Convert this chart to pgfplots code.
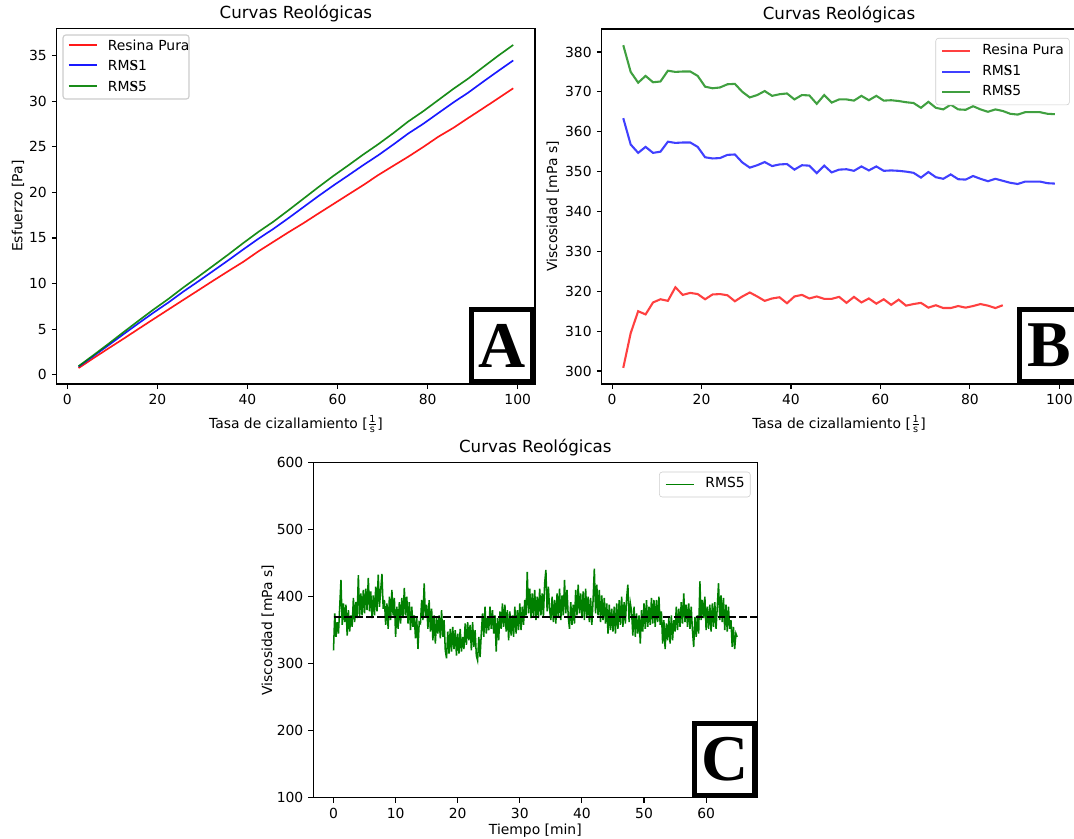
\documentclass[border=0pt]{standalone}
\usepackage{fontspec}
\setmainfont{DejaVu Sans}
\newfontfamily\ser{Liberation Serif}
\usepackage{amsmath}
\usepackage{pgfplots}
\usepackage{pgfplotstable}
\pgfplotsset{compat=1.18}

\definecolor{mplred}{rgb}{1,0,0}
\definecolor{mplblue}{rgb}{0,0,1}
\definecolor{mplgreen}{rgb}{0,0.5,0}

\pgfplotstableread{
x r b g
2.50 0.75 0.91 0.95
5.83 1.84 2.07 2.17
9.16 2.91 3.25 3.41
12.48 3.96 4.46 4.68
15.81 5.04 5.65 5.93
19.14 6.11 6.82 7.16
22.47 7.17 7.94 8.33
25.80 8.23 9.14 9.59
29.12 9.28 10.26 10.77
32.45 10.34 11.41 11.98
35.78 11.38 12.57 13.20
39.11 12.40 13.76 14.46
42.44 13.54 14.92 15.67
45.76 14.58 16.00 16.79
49.09 15.62 17.17 18.03
52.42 16.62 18.38 19.30
55.75 17.68 19.59 20.57
59.08 18.72 20.75 21.80
62.40 19.76 21.86 22.96
65.73 20.80 22.99 24.15
69.06 21.90 24.07 25.28
72.39 22.91 25.24 26.49
75.72 23.91 26.45 27.77
79.04 24.97 27.51 28.89
82.37 26.09 28.68 30.11
85.70 27.06 29.84 31.33
89.03 28.15 30.93 32.47
92.36 29.22 32.13 33.73
95.68 30.30 33.30 34.97
99.01 31.40 34.45 36.15
}\tabA

\pgfplotstableread{
x r b g
2.50 300.8 363.4 381.7
4.16 309.5 356.8 375.0
5.83 315.0 354.7 372.3
7.49 314.2 356.2 374.0
9.16 317.2 354.7 372.4
10.82 318.0 355.0 372.6
12.48 317.6 357.5 375.3
14.15 321.0 357.2 375.0
15.81 319.1 357.3 375.1
17.48 319.6 357.3 375.1
19.14 319.3 356.2 374.0
20.80 318.0 353.6 371.3
22.47 319.2 353.3 370.9
24.13 319.3 353.4 371.1
25.80 319.0 354.2 371.9
27.46 317.5 354.3 372.0
29.12 318.7 352.3 370.0
30.79 319.7 351.0 368.6
32.45 318.7 351.6 369.2
34.12 317.6 352.4 370.2
35.78 318.2 351.4 369.0
37.44 318.5 351.8 369.4
39.11 317.0 351.9 369.6
40.77 318.7 350.5 368.1
42.44 319.1 351.6 369.2
44.10 318.2 351.5 369.1
45.76 318.7 349.6 367.0
47.43 318.1 351.5 369.2
49.09 318.1 349.8 367.3
50.76 318.6 350.5 368.1
52.42 317.1 350.6 368.1
54.08 318.6 350.2 367.8
55.75 317.2 351.3 369.0
57.41 318.2 350.3 367.9
59.08 316.9 351.3 369.0
60.74 318.0 350.2 367.8
62.40 316.6 350.3 367.9
64.07 317.9 350.2 367.7
65.73 316.4 350.0 367.4
67.40 316.8 349.7 367.2
69.06 317.1 348.5 366.0
70.72 315.9 349.9 367.5
72.39 316.5 348.6 366.0
74.05 315.8 348.2 365.6
75.72 315.8 349.3 366.8
77.38 316.3 348.1 365.6
79.04 315.9 348.0 365.5
80.71 316.3 348.9 366.4
82.37 316.8 348.2 365.6
84.04 316.4 347.6 365.0
85.70 315.8 348.2 365.6
87.36 316.5 347.7 365.2
89.03 nan 347.2 364.5
90.69 nan 346.9 364.3
92.36 nan 347.5 364.9
94.02 nan 347.5 364.9
95.68 nan 347.5 364.9
97.35 nan 347.1 364.5
99.01 nan 347.0 364.4
}\tabB

\pgfplotstableread[row sep=\\]{
v\\
320\\375\\340\\362\\345\\
385\\425\\358\\390\\362\\
388\\342\\380\\348\\372\\
355\\398\\362\\392\\368\\
432\\370\\405\\372\\410\\
375\\412\\380\\428\\378\\
408\\368\\402\\372\\415\\
378\\433\\385\\410\\434\\
382\\395\\358\\390\\352\\
400\\365\\410\\372\\398\\
340\\385\\352\\392\\360\\
398\\368\\413\\372\\400\\
360\\392\\350\\385\\355\\
372\\338\\368\\322\\362\\
360\\395\\365\\420\\370\\
388\\352\\395\\348\\382\\
335\\372\\330\\368\\345\\
372\\338\\380\\340\\365\\
320\\308\\348\\315\\352\\
318\\355\\322\\350\\312\\
345\\315\\352\\318\\340\\
322\\360\\328\\362\\335\\
358\\320\\362\\325\\350\\
312\\305\\340\\310\\345\\
375\\340\\385\\345\\368\\
350\\385\\352\\380\\345\\
372\\318\\368\\335\\378\\
352\\390\\355\\388\\348\\
380\\335\\378\\342\\372\\
340\\385\\345\\380\\350\\
390\\350\\385\\358\\395\\
372\\437\\375\\412\\368\\
405\\370\\410\\365\\400\\
368\\412\\372\\405\\370\\
420\\440\\378\\415\\380\\
365\\400\\362\\395\\360\\
405\\370\\412\\365\\402\\
372\\425\\375\\410\\370\\
352\\392\\358\\388\\360\\
410\\372\\418\\375\\405\\
368\\408\\365\\412\\370\\
400\\362\\398\\358\\395\\
442\\375\\418\\372\\410\\
362\\402\\365\\398\\360\\
390\\345\\388\\350\\382\\
348\\385\\345\\390\\352\\
395\\358\\400\\355\\392\\
360\\398\\418\\362\\390\\
378\\342\\385\\340\\375\\
345\\372\\330\\380\\348\\
390\\352\\395\\355\\385\\
358\\398\\360\\395\\355\\
395\\362\\400\\358\\378\\
330\\365\\322\\360\\335\\
368\\330\\372\\335\\365\\
348\\385\\350\\382\\355\\
392\\360\\405\\362\\388\\
355\\390\\352\\385\\350\\
325\\370\\340\\372\\345\\
423\\365\\395\\368\\400\\
350\\385\\352\\388\\348\\
390\\355\\392\\352\\385\\
420\\365\\402\\362\\398\\
350\\388\\348\\385\\352\\
365\\325\\355\\322\\345\\
340\\
}\tabC

\pgfplotsset{
  mpl/.style={
    scale only axis,
    axis line style={line width=0.8pt, black},
    tick align=outside,
    major tick length=3.5pt,
    tick style={line width=0.8pt, black},
    xtick pos=bottom, ytick pos=left,
    tick label style={font=\fontsize{10}{12}\selectfont, inner sep=0pt},
    xticklabel style={yshift=-3.5pt},
    yticklabel style={xshift=-3.5pt},
    /pgf/number format/assume math mode=true,
    label style={font=\fontsize{10}{12}\selectfont, inner sep=0pt},
    title style={font=\fontsize{12}{14}\selectfont, at={(axis description cs:0.5,1)}, anchor=base, yshift=1pt, inner sep=0pt},
    legend cell align=left,
    legend image code/.code={\draw[##1] (0pt,0pt) -- (20pt,0pt);},
    legend style={font=\fontsize{10}{12}\selectfont, draw=black!20, rounded corners=2pt,
      fill=white, inner xsep=4pt, inner ysep=4pt,
      outer sep=0pt, row sep=5pt,
      nodes={inner sep=0pt, text height=7.5pt, text depth=2.5pt},
      /tikz/every odd column/.append style={column sep=8pt}},
  },
}
\tikzset{
  letterbox/.style={draw=black, line width=3.6pt, fill=white, inner sep=0pt,
    minimum width=43.6pt, minimum height=51.8pt, anchor=south east,
    font=\fontsize{47}{47}\ser\bfseries},
  legtext/.style={anchor=west, inner sep=0pt, text height=7.3pt, text depth=0pt,
    font=\fontsize{10}{12}\selectfont},
}

\newcommand{\rms}[1]{RM{\fontsize{11}{11}\ser\bfseries S}#1}
\newcommand{\tasa}{Tasa de cizallamiento [$\frac{\text{1}}{\text{s}}$]}

\begin{document}
\begin{tikzpicture}
\useasboundingbox (0,0) rectangle (773.3pt,603.4pt);

% Panel A
\begin{axis}[mpl, at={(40.9pt,326.9pt)}, anchor=south west,
  width=344.3pt, height=256.1pt,
  xmin=-2.33, xmax=103.84, ymin=-1.0, ymax=37.97,
  xtick={0,20,40,60,80,100}, ytick={0,5,10,15,20,25,30,35},
  title={Curvas Reológicas},
  xlabel={\tasa}, ylabel={Esfuerzo [Pa]},
  xlabel style={at={(axis description cs:0.5,-0.124)}, anchor=base},
  ylabel style={at={(axis description cs:-0.072,0.5)}, anchor=base},
  clip=false,
]
\addplot[mplred, line width=1.2pt, opacity=0.9] table[x=x, y=r] {\tabA};
\addplot[mplblue, line width=1.2pt, opacity=0.9] table[x=x, y=b] {\tabA};
\addplot[mplgreen, line width=1.2pt, opacity=0.9] table[x=x, y=g] {\tabA};
\node[letterbox] at (rel axis cs:1,0) {A};
\end{axis}

% Legend of panel A
\draw[black!20, rounded corners=2pt, fill=white, line width=0.8pt] (45.4pt,532.1pt) rectangle (136.1pt,578.2pt);
\draw[mplred, line width=1.2pt, opacity=0.9] (49.5pt,570.96pt) -- (69.5pt,570.96pt);
\draw[mplblue, line width=1.2pt, opacity=0.9] (49.5pt,556.56pt) -- (69.5pt,556.56pt);
\draw[mplgreen, line width=1.2pt, opacity=0.9] (49.5pt,541.44pt) -- (69.5pt,541.44pt);
\node[legtext] at (77.5pt,570.96pt) {Resina Pura};
\node[legtext] at (77.5pt,556.56pt) {\rms{1}};
\node[legtext] at (77.5pt,541.44pt) {\rms{5}};

% Panel B
\begin{axis}[mpl, at={(433.2pt,326.9pt)}, anchor=south west,
  width=341.9pt, height=255.6pt,
  xmin=-2.33, xmax=103.84, ymin=296.75, ymax=385.75,
  xtick={0,20,40,60,80,100}, ytick={300,310,320,330,340,350,360,370,380},
  title={Curvas Reológicas},
  xlabel={\tasa}, ylabel={Viscosidad [mPa s]},
  xlabel style={at={(axis description cs:0.5,-0.124)}, anchor=base},
  ylabel style={at={(axis description cs:-0.0936,0.5)}, anchor=base},
  legend style={at={(axis description cs:0.985,0.974)}, anchor=north east},
  clip=false,
]
\addplot[mplred, line width=1.5pt, opacity=0.75] table[x=x, y=r] {\tabB};
\addlegendentry{Resina Pura}
\addplot[mplblue, line width=1.5pt, opacity=0.75] table[x=x, y=b] {\tabB};
\addlegendentry{\rms{1}}
\addplot[mplgreen, line width=1.5pt, opacity=0.75] table[x=x, y=g] {\tabB};
\addlegendentry{\rms{5}}
\node[letterbox, xshift=4pt] at (rel axis cs:1,0) {B};
\end{axis}

% Panel C
\begin{axis}[mpl, at={(225.6pt,29.0pt)}, anchor=south west,
  width=319.7pt, height=241.3pt,
  xmin=-3.25, xmax=68.25, ymin=100, ymax=600,
  xtick={0,10,20,30,40,50,60}, ytick={100,200,300,400,500,600},
  title={Curvas Reológicas},
  xlabel={Tiempo [min]}, ylabel={Viscosidad [mPa s]},
  xlabel style={at={(axis description cs:0.5,-0.11)}, anchor=base},
  ylabel style={at={(axis description cs:-0.093,0.5)}, anchor=base},
  legend style={at={(axis description cs:0.984,0.972)}, anchor=north east},
]
\addplot[mplgreen, line width=1.1pt] table[x expr=\coordindex*0.2, y=v] {\tabC};
\addlegendentry{RMS5}
\addplot[black, line width=1.5pt, dash pattern=on 5.5pt off 2.4pt, forget plot] coordinates {(0,370) (68.25,370)};
\node[letterbox] at (rel axis cs:1,0) {C};
\end{axis}
\end{tikzpicture}
\end{document}
